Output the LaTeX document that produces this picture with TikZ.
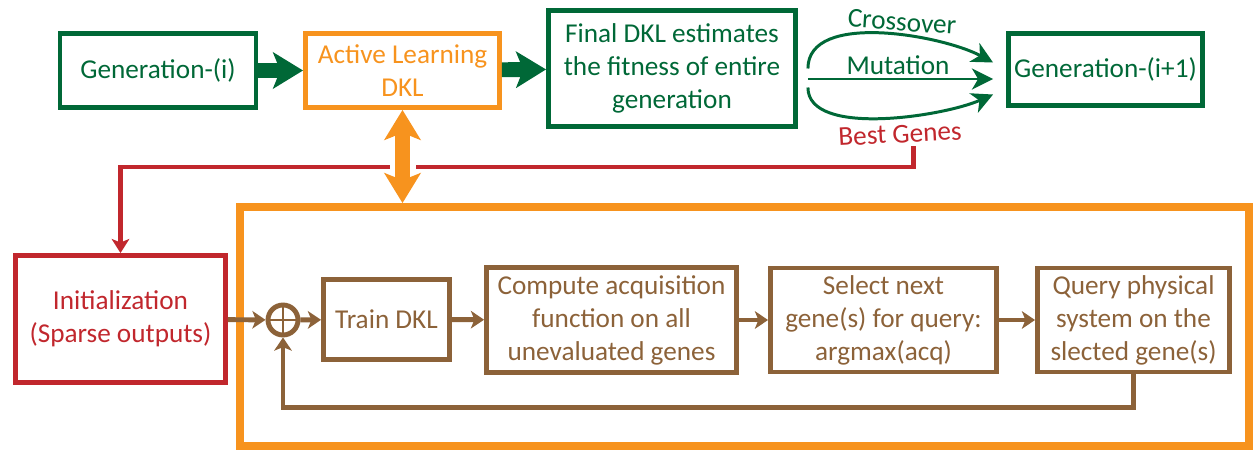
\documentclass[tikz,border=0pt]{standalone}
\usepackage{fontspec}
\setmainfont{Carlito}
\usetikzlibrary{arrows.meta,positioning,calc}

\definecolor{gagreen}{RGB}{0,104,55}
\definecolor{alorange}{RGB}{247,147,30}
\definecolor{initred}{RGB}{193,39,45}
\definecolor{loopbrown}{RGB}{140,98,57}

\begin{document}
\begin{tikzpicture}[
        x=0.02cm, y=-0.02cm,
        font=\fontsize{15.5}{18.8}\selectfont,
        % Block styles
        block/.style={
            rectangle,
            draw=#1,
            text=#1,
            line width=2.8pt,
            inner sep=2pt,
            align=center
        },
        stepblock/.style={
            block=loopbrown,
            minimum height=2.08cm
        },
        bigarrow/.style={-{Stealth[length=17pt, width=20.5pt, inset=4pt]}, line width=8.5pt, draw=#1},
        gaarrow/.style={-{Stealth[length=12pt, width=12pt, inset=3.5pt]}, line width=1.7pt, draw=gagreen},
        looparrow/.style={-{Stealth[length=7.5pt, width=10pt, inset=2pt]}, line width=2.8pt, draw=loopbrown},
        redarrow/.style={-{Stealth[length=8pt, width=10pt, inset=2pt]}, line width=2.8pt, draw=initred},
        edgelabel/.style={inner sep=1pt, text=#1}
    ]
    \useasboundingbox (0,0) rectangle (1254,453);

    % Genetic algorithm row
    \node[block=gagreen, minimum width=3.92cm, minimum height=1.48cm] (gen) at (158,70.5) {Generation-(i)};
    \node[block=alorange, minimum width=3.88cm, minimum height=1.48cm] (al) at (402.5,70.5) {Active Learning\\DKL};
    \node[block=gagreen, minimum width=4.94cm, minimum height=2.32cm] (final) at (672,68.5) {Final DKL estimates\\the fitness of entire\\generation};
    \node[block=gagreen, minimum width=3.88cm, minimum height=1.44cm] (next) at (1105.5,69.5) {Generation-(i+1)};

    % Edge labels
    \node[edgelabel=gagreen, rotate=-4] (cross) at (902,22) {Crossover};
    \node[edgelabel=gagreen] (mut) at (898,65) {Mutation};
    \node[edgelabel=initred, rotate=3] (genes) at (900,134) {Best Genes};

    % Active learning loop
    \node[block=alorange, line width=4.5pt, minimum width=20.18cm, minimum height=4.78cm] (loop) at (744.5,326.5) {};
    \node[block=initred, minimum width=4.2cm, minimum height=2.54cm] (init) at (120.5,319) {Initialization\\(Sparse outputs)};
    \node[circle, draw=loopbrown, line width=2.8pt, minimum size=0.6cm, inner sep=0pt] (sum) at (283,320) {};
    \node[block=loopbrown, minimum width=2.52cm, minimum height=1.6cm] (train) at (386.5,319.5) {Train DKL};
    \node[stepblock, minimum width=5cm, minimum height=2.1cm] (acq) at (611.5,320) {Compute acquisition\\function on all\\unevaluated genes};
    \node[stepblock, minimum width=4.52cm] (select) at (883.5,320) {Select next\\gene(s) for query:\\argmax(acq)};
    \node[stepblock, minimum width=3.84cm] (query) at (1133.5,320) {Query physical\\system on the\\slected gene(s)};

    % Connections
    \draw[bigarrow=gagreen] (gen) -- (al);
    \draw[bigarrow=gagreen] (al) -- (final);

    \draw[gaarrow] ($(final.east)+(10,0)$) .. controls +(0,-58) and +(-50,-27) .. ($(next.west)+(-13,-7)$);
    \draw[gaarrow] ($(final.east)+(10,10.5)$) -- ($(next.west)+(-13,9.5)$);
    \draw[gaarrow] ($(final.east)+(10,19)$) .. controls +(0,50) and +(-50,22) .. ($(next.west)+(-13,25)$);

    \draw[redarrow] ($(genes.south)+(13,1)$) -- ++(0,21) -| (init.north);
    \draw[bigarrow=alorange, {Stealth[length=17pt, width=20.5pt, inset=4pt]}-{Stealth[length=17pt, width=20.5pt, inset=4pt]},
        preaction={draw=white, line width=0.52cm, -, shorten <=0.9cm, shorten >=0.5cm}] (al.south) -- (al.south |- loop.north);

    \draw[loopbrown, line width=1.7pt] (sum.north) -- (sum.south) (sum.west) -- (sum.east);
    \draw[looparrow] (init) -- (sum);
    \draw[looparrow] (sum) -- (train);
    \draw[looparrow] (train) -- (acq);
    \draw[looparrow] (acq) -- (select);
    \draw[looparrow] (select) -- (query);
    \draw[looparrow] (query.south) -- ++(0,33) -| (sum.south);

\end{tikzpicture}
\end{document}
